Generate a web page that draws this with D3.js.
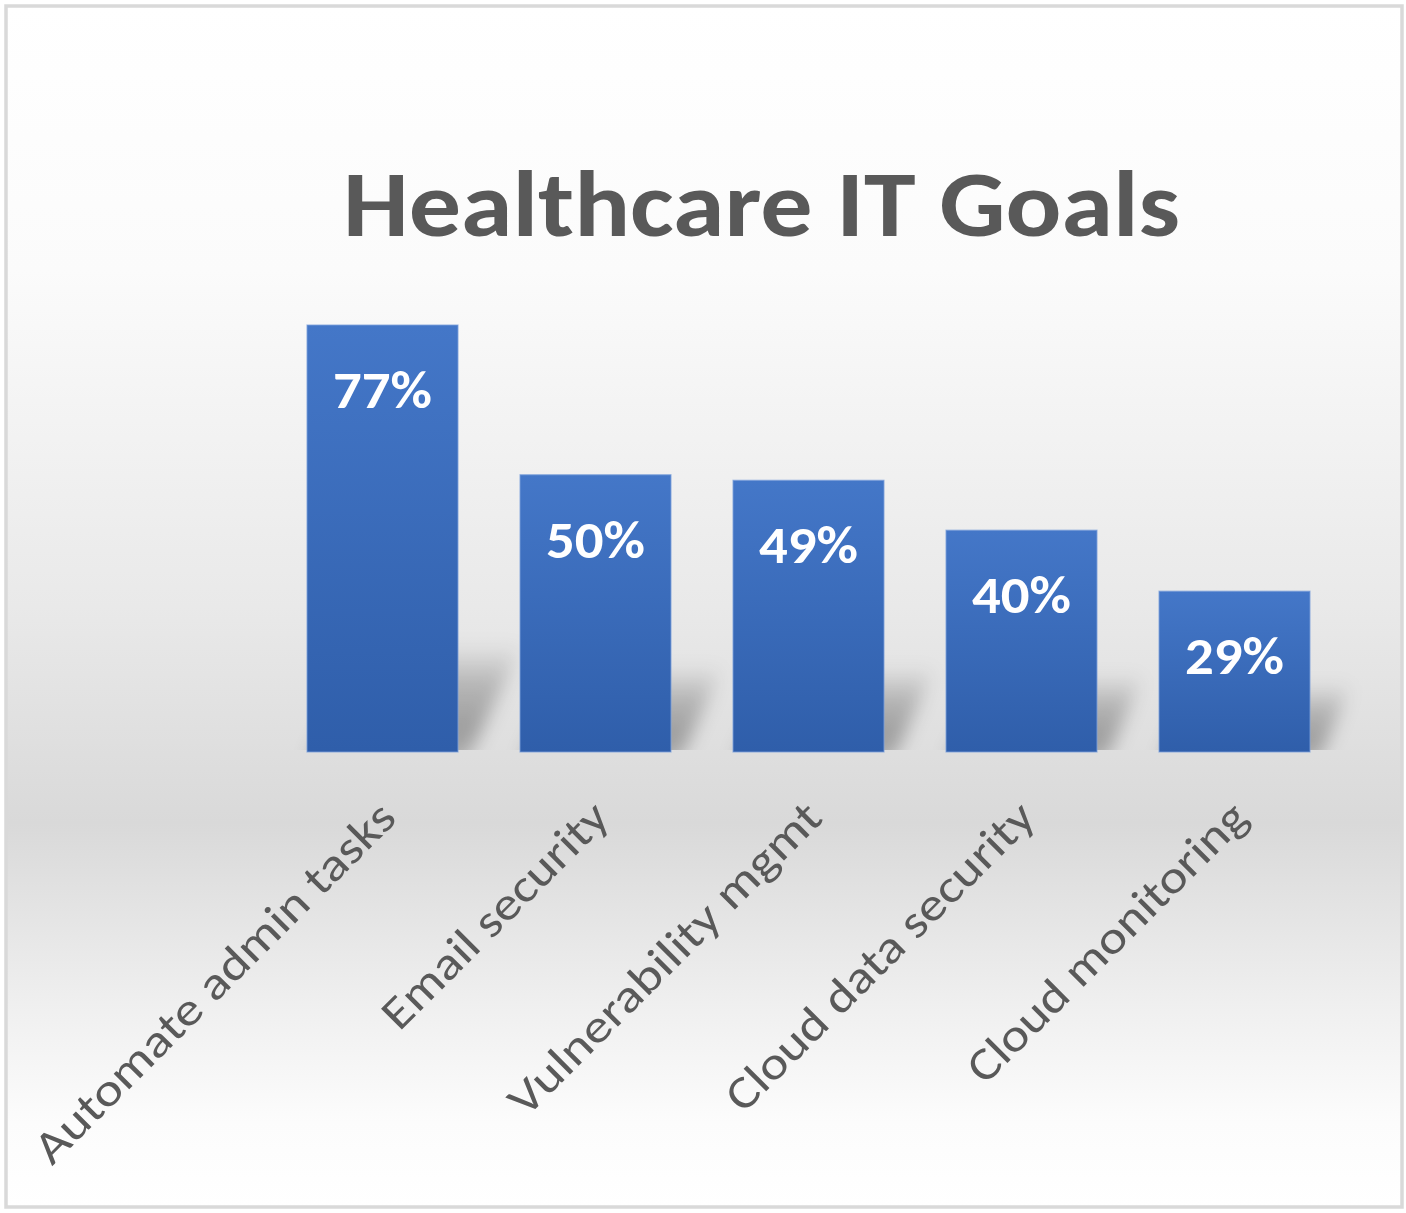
<!DOCTYPE html>
<html>
<head>
<meta charset="utf-8">
<script src="https://cdn.jsdelivr.net/npm/d3@7"></script>
<style>
  html, body { margin: 0; padding: 0; background: #ffffff; }
  svg { display: block; }
</style>
</head>
<body>
<script>
// ---- data ----
const title = "Healthcare IT Goals";
const categories = ["Automate admin tasks", "Email security", "Vulnerability mgmt", "Cloud data security", "Cloud monitoring"];
const values = [77, 50, 49, 40, 29];
const valueLabels = ["77%", "50%", "49%", "40%", "29%"];
// measured lengths of rotated category labels (px along the baseline)
const labelLengths = [490, 300, 422, 416, 376];

const W = 1406, H = 1213;
const svg = d3.select("body").append("svg").attr("width", W).attr("height", H);
const defs = svg.append("defs");

// background gradient
const bg = defs.append("linearGradient").attr("id", "bgGrad").attr("x1", 0).attr("y1", 0).attr("x2", 0).attr("y2", 1);
[[0, "#ffffff"], [0.22, "#fbfbfb"], [0.5, "#e9e9e9"], [0.68, "#d9d9d9"], [0.83, "#efefef"], [0.93, "#fcfcfc"], [1, "#ffffff"]]
  .forEach(([o, c]) => bg.append("stop").attr("offset", o).attr("stop-color", c));

// bar gradient
const bar = defs.append("linearGradient").attr("id", "barGrad").attr("x1", 0).attr("y1", 0).attr("x2", 0).attr("y2", 1);
bar.append("stop").attr("offset", 0).attr("stop-color", "#4477c8");
bar.append("stop").attr("offset", 1).attr("stop-color", "#2f5eaa");

// shadow gradient
const sh = defs.append("linearGradient").attr("id", "shGrad").attr("x1", 0).attr("y1", 0).attr("x2", 0).attr("y2", 1);
sh.append("stop").attr("offset", 0).attr("stop-color", "#000").attr("stop-opacity", 0.0);
sh.append("stop").attr("offset", 0.35).attr("stop-color", "#000").attr("stop-opacity", 0.2);
sh.append("stop").attr("offset", 0.75).attr("stop-color", "#000").attr("stop-opacity", 0.3);
sh.append("stop").attr("offset", 1).attr("stop-color", "#000").attr("stop-opacity", 0.2);

const blur = defs.append("filter").attr("id", "blur").attr("x", "-50%").attr("y", "-50%").attr("width", "200%").attr("height", "200%");
blur.append("feGaussianBlur").attr("stdDeviation", 9);

// card
svg.append("rect").attr("x", 6).attr("y", 6).attr("width", 1396).attr("height", 1201)
  .attr("fill", "url(#bgGrad)").attr("stroke", "#d9d9d9").attr("stroke-width", 3.5);

// scales
const baseY = 752;
const x = d3.scaleBand().domain(categories).range([276, 1341]).paddingInner(0.291).paddingOuter(0.1455);
const y = d3.scaleLinear().domain([0, 80]).range([baseY, baseY - 80 * (427 / 77)]);

const data = categories.map((c, i) => ({ c, v: values[i], lab: valueLabels[i], len: labelLengths[i] }));

// clip for shadows (above baseline)
defs.append("clipPath").attr("id", "shClip").append("rect").attr("x", 0).attr("y", 0).attr("width", W).attr("height", baseY - 2);

// shadows (perspective, leaning up-right)
svg.append("g").attr("clip-path", "url(#shClip)").selectAll("path").data(data).join("path")
  .attr("d", d => {
    const x0 = x(d.c), x1 = x0 + x.bandwidth();
    const h = 45 + (baseY - y(d.v)) * 0.15;
    const s = h * 0.6;
    return `M${x0},${baseY + 10} L${x1 + 8},${baseY + 10} L${x1 + s},${baseY - h} L${x0 + s},${baseY - h} Z`;
  })
  .attr("fill", "url(#shGrad)")
  .attr("filter", "url(#blur)");

// bars
svg.append("g").selectAll("rect").data(data).join("rect")
  .attr("x", d => x(d.c))
  .attr("y", d => y(d.v))
  .attr("width", x.bandwidth())
  .attr("height", d => baseY - y(d.v))
  .attr("fill", "url(#barGrad)")
  .attr("stroke", "#7ea1dc").attr("stroke-width", 1.2).attr("stroke-opacity", 0.7);

// value labels
svg.append("g").selectAll("text").data(data).join("text")
  .attr("x", d => x(d.c) + x.bandwidth() / 2)
  .attr("y", d => y(d.v) + 83)
  .attr("text-anchor", "middle")
  .attr("font-family", "Carlito, Lato, 'Open Sans', sans-serif")
  .attr("font-weight", 700)
  .attr("font-size", 52)
  .attr("fill", "#ffffff")
  .attr("textLength", 99)
  .attr("lengthAdjust", "spacingAndGlyphs")
  .text(d => d.lab);

// category labels (rotated -45)
svg.append("g").selectAll("text").data(data).join("text")
  .attr("transform", d => `translate(${x(d.c) + x.bandwidth() / 2 + 16},${820}) rotate(-45)`)
  .attr("text-anchor", "end")
  .attr("font-family", "Carlito, Lato, 'Open Sans', sans-serif")
  .attr("font-size", 46)
  .attr("fill", "#595959")
  .attr("textLength", d => d.len)
  .attr("lengthAdjust", "spacingAndGlyphs")
  .text(d => d.c);

// title
svg.append("text")
  .attr("x", 761.5).attr("y", 236)
  .attr("text-anchor", "middle")
  .attr("font-family", "Carlito, Lato, 'Open Sans', sans-serif")
  .attr("font-weight", 700)
  .attr("font-size", 93)
  .attr("fill", "#595959")
  .attr("textLength", 837)
  .attr("lengthAdjust", "spacingAndGlyphs")
  .text(title);
</script>
</body>
</html>
